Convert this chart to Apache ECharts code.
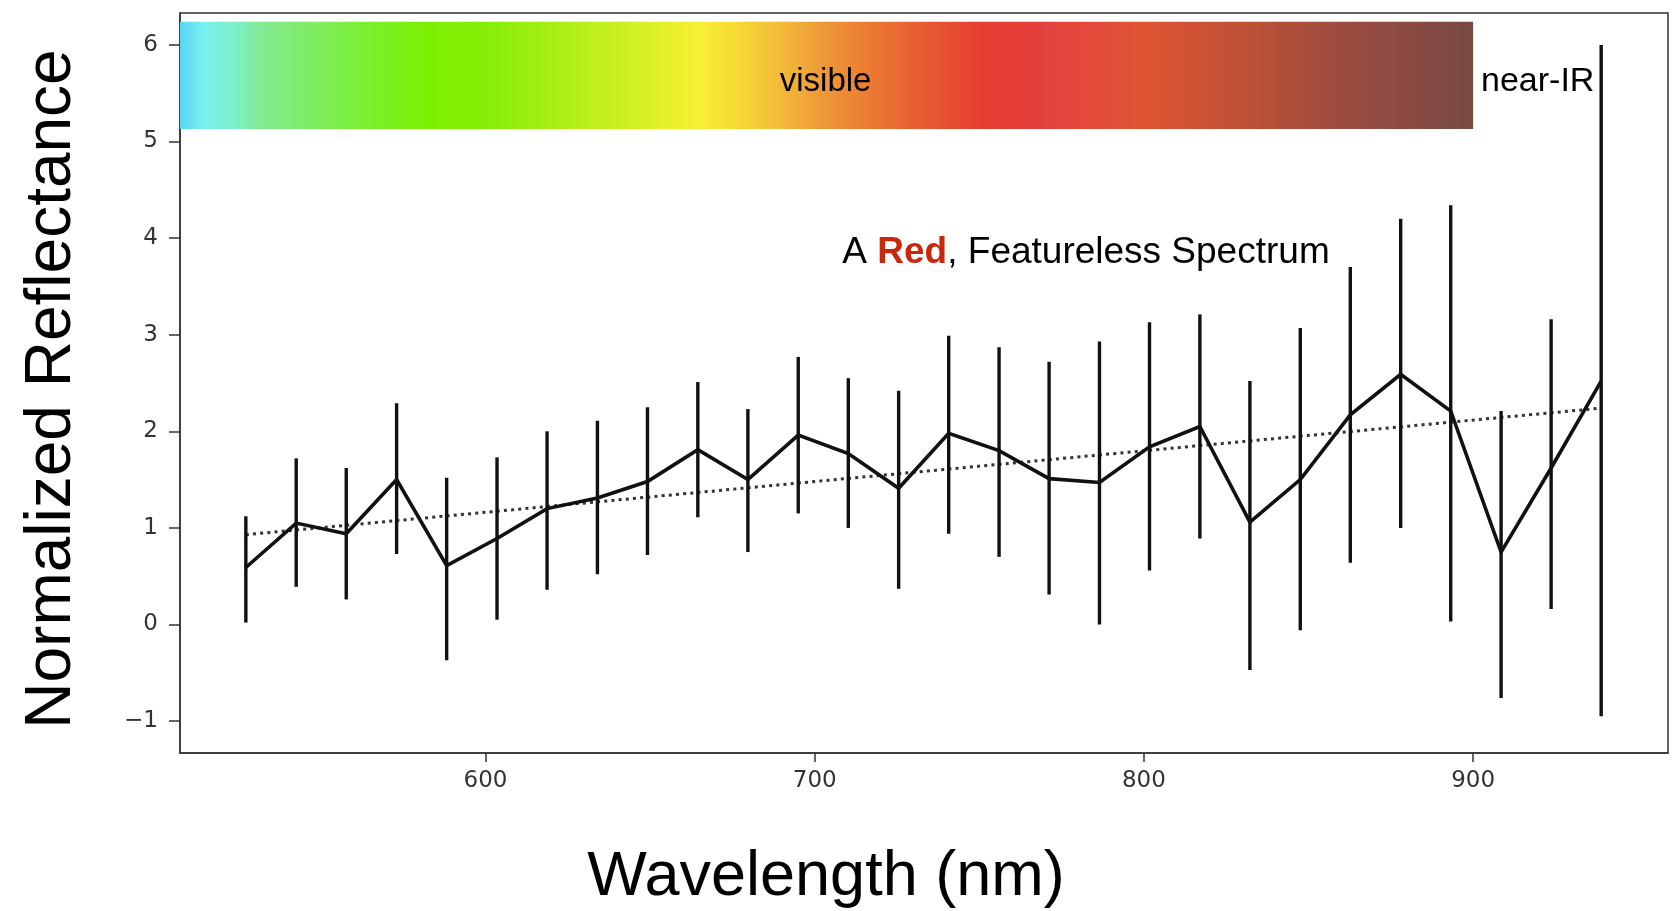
<!DOCTYPE html>
<html>
<head>
<meta charset="utf-8">
<script src="https://cdn.jsdelivr.net/npm/echarts@6/dist/echarts.min.js"></script>
<style>
html,body{margin:0;padding:0;background:#fff;}
#chart{width:1677px;height:911px;}
</style>
</head>
<body>
<div id="chart"></div>
<script>
// ---- data ----
var wavelengths = [527.2, 542.5, 557.7, 573.0, 588.2, 603.5, 618.7, 634.0, 649.2, 664.5, 679.7, 695.0, 710.2, 725.5, 740.7, 756.0, 771.2, 786.5, 801.7, 817.0, 832.2, 847.5, 862.7, 878.0, 893.2, 908.5, 923.7, 938.9];
var reflectance = [0.59, 1.05, 0.94, 1.50, 0.61, 0.89, 1.20, 1.31, 1.48, 1.81, 1.50, 1.96, 1.77, 1.41, 1.98, 1.80, 1.51, 1.47, 1.84, 2.05, 1.06, 1.50, 2.17, 2.59, 2.21, 0.75, 1.62, 2.52];
var errUpper = [1.12, 1.72, 1.62, 2.29, 1.52, 1.73, 2.00, 2.11, 2.25, 2.51, 2.23, 2.77, 2.55, 2.42, 2.99, 2.87, 2.72, 2.93, 3.13, 3.21, 2.52, 3.07, 3.70, 4.20, 4.34, 2.21, 3.16, 6.00];
var errLower = [0.02, 0.39, 0.26, 0.73, -0.37, 0.05, 0.36, 0.52, 0.72, 1.11, 0.75, 1.15, 1.00, 0.37, 0.94, 0.70, 0.31, 0.00, 0.56, 0.89, -0.47, -0.06, 0.64, 1.00, 0.03, -0.76, 0.16, -0.95];
var trendX = [527.2, 938.9];
var trendY = [0.93, 2.24];
var xTicks = [600, 700, 800, 900];
var yTicks = [-1, 0, 1, 2, 3, 4, 5, 6];
var xRange = [507.2, 959.2];
var yRange = [-1.33, 6.33];
var bandX = [507.2, 900];
var bandY = [5.13, 6.24];
var textLabels = [
  {x: 703.3, y: 5.62, text: 'visible', align: 'center', size: 33},
  {x: 902.4, y: 5.62, text: 'near-IR', align: 'left', size: 34},
  {x: 708.4, y: 3.85, text: 'A {r|Red}, Featureless Spectrum', align: 'left', size: 37}
];

// ---- chart ----
var chart = echarts.init(document.getElementById('chart'), null, {renderer: 'canvas'});

var lineData = wavelengths.map(function (w, i) { return [w, reflectance[i]]; });
var errData = wavelengths.map(function (w, i) { return [w, errLower[i], errUpper[i]]; });
var trendData = trendX.map(function (w, i) { return [w, trendY[i]]; });

var spectrumStops = [
  [0.000, '#5CD3F4'], [0.019, '#78F2F0'], [0.042, '#7DEFC8'], [0.064, '#82EA90'],
  [0.096, '#80EC6A'], [0.145, '#7AF030'], [0.193, '#7CF000'], [0.241, '#88EE08'],
  [0.289, '#A8EE14'], [0.337, '#C8F020'], [0.402, '#F8F032'], [0.433, '#F6D835'],
  [0.465, '#F2BA38'], [0.498, '#EE9838'], [0.534, '#EC7A32'], [0.576, '#E55A33'],
  [0.625, '#E83C30'], [0.668, '#E44040'], [0.703, '#E44A3C'], [0.743, '#DF5432'],
  [0.789, '#CE5234'], [0.837, '#B85038'], [0.886, '#A24C3E'], [0.935, '#904A44'],
  [1.000, '#764A42']
].map(function (s) { return {offset: s[0], color: s[1]}; });

var tickFont = {fontFamily: 'DejaVu Sans', fontSize: 23, color: '#333'};

chart.setOption({
  animation: false,
  backgroundColor: '#fff',
  grid: {left: 180, right: 9, top: 13, bottom: 158, outerBoundsMode: 'none', containLabel: false, show: true, borderColor: '#333', borderWidth: 1.5, backgroundColor: 'transparent'},
  xAxis: {
    type: 'value', min: xRange[0], max: xRange[1],
    name: 'Wavelength (nm)', nameLocation: 'middle', nameGap: 93,
    nameTextStyle: {fontFamily: 'Liberation Sans', fontSize: 63, color: '#000', padding: [0, 196, 0, 0]},
    axisLine: {show: true, onZero: false, lineStyle: {color: '#333', width: 1.5}},
    axisTick: {show: true, length: 9, lineStyle: {color: '#333', width: 1.5}, customValues: xTicks},
    axisLabel: Object.assign({margin: 17, customValues: xTicks, formatter: function (v) { return String(v); }}, tickFont),
    splitLine: {show: false}
  },
  yAxis: {
    type: 'value', min: yRange[0], max: yRange[1],
    name: 'Normalized Reflectance', nameLocation: 'middle', nameGap: 96, nameRotate: 90,
    nameTextStyle: {fontFamily: 'Liberation Sans', fontSize: 64, color: '#000', padding: [0, 12, 0, 0]},
    axisLine: {show: true, onZero: false, lineStyle: {color: '#333', width: 1.5}},
    axisTick: {show: true, length: 11, lineStyle: {color: '#333', width: 1.5}, customValues: yTicks},
    axisLabel: Object.assign({margin: 22, customValues: yTicks, formatter: function (v) { return v < 0 ? '\u2212' + Math.abs(v) : String(v); }}, tickFont),
    splitLine: {show: false}
  },
  series: [
    {
      type: 'custom', name: 'band', z: 1, silent: true,
      data: [[bandX[0], bandX[1], bandY[0], bandY[1]]],
      encode: {x: [0, 1], y: [2, 3]},
      renderItem: function (params, api) {
        var p0 = api.coord([api.value(0), api.value(3)]);
        var p1 = api.coord([api.value(1), api.value(2)]);
        return {
          type: 'rect',
          shape: {x: p0[0], y: p0[1], width: p1[0] - p0[0], height: p1[1] - p0[1]},
          style: {fill: new echarts.graphic.LinearGradient(0, 0, 1, 0, spectrumStops)}
        };
      }
    },
    {
      type: 'custom', name: 'errors', z: 3, silent: true,
      data: errData,
      encode: {x: 0, y: [1, 2]},
      renderItem: function (params, api) {
        var lo = api.coord([api.value(0), api.value(1)]);
        var hi = api.coord([api.value(0), api.value(2)]);
        return {
          type: 'line',
          shape: {x1: lo[0], y1: lo[1], x2: hi[0], y2: hi[1]},
          style: {stroke: '#111', lineWidth: 3.4}
        };
      }
    },
    {
      type: 'line', name: 'trend', z: 2, silent: true,
      data: trendData, symbol: 'none',
      lineStyle: {color: '#333', width: 3, type: [3, 4.2], cap: 'butt'}
    },
    {
      type: 'line', name: 'spectrum', z: 4, silent: true,
      data: lineData, symbol: 'none',
      lineStyle: {color: '#111', width: 3.6, join: 'miter'}
    },
    {
      type: 'custom', name: 'labels', z: 5, silent: true,
      data: textLabels.map(function (t, i) { return [t.x, t.y, i]; }),
      encode: {x: 0, y: 1},
      renderItem: function (params, api) {
        var t = textLabels[api.value(2)];
        var p = api.coord([api.value(0), api.value(1)]);
        return {
          type: 'text', x: p[0], y: p[1],
          style: {
            text: t.text, fill: '#000', fontSize: t.size, fontFamily: 'Liberation Sans',
            align: t.align, verticalAlign: 'middle',
            rich: {r: {fill: '#C8290C', color: '#C8290C', fontWeight: 'bold', fontSize: t.size, fontFamily: 'Liberation Sans'}}
          }
        };
      }
    }
  ]
});
</script>
</body>
</html>
